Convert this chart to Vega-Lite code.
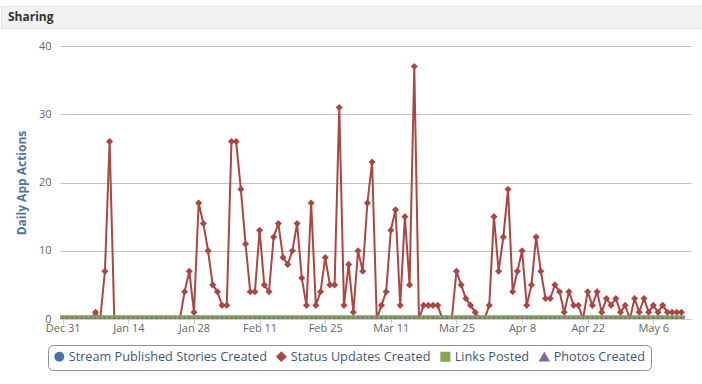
{
  "$schema": "https://vega.github.io/schema/vega-lite/v6.json",
  "background": "white",
  "padding": {"left": 0, "top": 5, "right": 0, "bottom": 0},
  "config": {"font": "Open Sans", "view": {"stroke": null}},
  "spacing": 11,
  "vconcat": [
    {
      "width": 702,
      "height": 22,
      "view": {"fill": "#f2f2f2", "stroke": "#e4e4e4"},
      "data": {"values": [{"label": "Sharing"}]},
      "mark": {"type": "text", "align": "left", "dx": 7, "font": "Open Sans", "fontSize": 12, "fontWeight": "bold", "color": "#333333"},
      "encoding": {
        "text": {"field": "label"},
        "x": {"datum": 0, "type": "quantitative", "scale": {"domain": [0, 1]}, "axis": null}
      }
    },
    {
      "spacing": 0,
      "hconcat": [
        {
          "width": 1,
          "height": 1,
          "data": {"values": []},
          "mark": "text"
        },
        {
          "width": 631,
          "height": 273,
          "view": {"stroke": null},
          "data": {"values": [
            {"d":"2012-12-31","stream":0,"status":0,"links":0,"photos":0},
            {"d":"2013-01-01","stream":0,"status":0,"links":0,"photos":0},
            {"d":"2013-01-02","stream":0,"status":0,"links":0,"photos":0},
            {"d":"2013-01-03","stream":0,"status":0,"links":0,"photos":0},
            {"d":"2013-01-04","stream":0,"status":0,"links":0,"photos":0},
            {"d":"2013-01-05","stream":0,"status":0,"links":0,"photos":0},
            {"d":"2013-01-06","stream":0,"status":0,"links":0,"photos":0},
            {"d":"2013-01-07","stream":0,"status":1,"links":0,"photos":0},
            {"d":"2013-01-08","stream":0,"status":0,"links":0,"photos":0},
            {"d":"2013-01-09","stream":0,"status":7,"links":0,"photos":0},
            {"d":"2013-01-10","stream":0,"status":26,"links":0,"photos":0},
            {"d":"2013-01-11","stream":0,"status":0,"links":0,"photos":0},
            {"d":"2013-01-12","stream":0,"status":0,"links":0,"photos":0},
            {"d":"2013-01-13","stream":0,"status":0,"links":0,"photos":0},
            {"d":"2013-01-14","stream":0,"status":0,"links":0,"photos":0},
            {"d":"2013-01-15","stream":0,"status":0,"links":0,"photos":0},
            {"d":"2013-01-16","stream":0,"status":0,"links":0,"photos":0},
            {"d":"2013-01-17","stream":0,"status":0,"links":0,"photos":0},
            {"d":"2013-01-18","stream":0,"status":0,"links":0,"photos":0},
            {"d":"2013-01-19","stream":0,"status":0,"links":0,"photos":0},
            {"d":"2013-01-20","stream":0,"status":0,"links":0,"photos":0},
            {"d":"2013-01-21","stream":0,"status":0,"links":0,"photos":0},
            {"d":"2013-01-22","stream":0,"status":0,"links":0,"photos":0},
            {"d":"2013-01-23","stream":0,"status":0,"links":0,"photos":0},
            {"d":"2013-01-24","stream":0,"status":0,"links":0,"photos":0},
            {"d":"2013-01-25","stream":0,"status":0,"links":0,"photos":0},
            {"d":"2013-01-26","stream":0,"status":4,"links":0,"photos":0},
            {"d":"2013-01-27","stream":0,"status":7,"links":0,"photos":0},
            {"d":"2013-01-28","stream":0,"status":1,"links":0,"photos":0},
            {"d":"2013-01-29","stream":0,"status":17,"links":0,"photos":0},
            {"d":"2013-01-30","stream":0,"status":14,"links":0,"photos":0},
            {"d":"2013-01-31","stream":0,"status":10,"links":0,"photos":0},
            {"d":"2013-02-01","stream":0,"status":5,"links":0,"photos":0},
            {"d":"2013-02-02","stream":0,"status":4,"links":0,"photos":0},
            {"d":"2013-02-03","stream":0,"status":2,"links":0,"photos":0},
            {"d":"2013-02-04","stream":0,"status":2,"links":0,"photos":0},
            {"d":"2013-02-05","stream":0,"status":26,"links":0,"photos":0},
            {"d":"2013-02-06","stream":0,"status":26,"links":0,"photos":0},
            {"d":"2013-02-07","stream":0,"status":19,"links":0,"photos":0},
            {"d":"2013-02-08","stream":0,"status":11,"links":0,"photos":0},
            {"d":"2013-02-09","stream":0,"status":4,"links":0,"photos":0},
            {"d":"2013-02-10","stream":0,"status":4,"links":0,"photos":0},
            {"d":"2013-02-11","stream":0,"status":13,"links":0,"photos":0},
            {"d":"2013-02-12","stream":0,"status":5,"links":0,"photos":0},
            {"d":"2013-02-13","stream":0,"status":4,"links":0,"photos":0},
            {"d":"2013-02-14","stream":0,"status":12,"links":0,"photos":0},
            {"d":"2013-02-15","stream":0,"status":14,"links":0,"photos":0},
            {"d":"2013-02-16","stream":0,"status":9,"links":0,"photos":0},
            {"d":"2013-02-17","stream":0,"status":8,"links":0,"photos":0},
            {"d":"2013-02-18","stream":0,"status":10,"links":0,"photos":0},
            {"d":"2013-02-19","stream":0,"status":14,"links":0,"photos":0},
            {"d":"2013-02-20","stream":0,"status":6,"links":0,"photos":0},
            {"d":"2013-02-21","stream":0,"status":2,"links":0,"photos":0},
            {"d":"2013-02-22","stream":0,"status":17,"links":0,"photos":0},
            {"d":"2013-02-23","stream":0,"status":2,"links":0,"photos":0},
            {"d":"2013-02-24","stream":0,"status":4,"links":0,"photos":0},
            {"d":"2013-02-25","stream":0,"status":9,"links":0,"photos":0},
            {"d":"2013-02-26","stream":0,"status":5,"links":0,"photos":0},
            {"d":"2013-02-27","stream":0,"status":5,"links":0,"photos":0},
            {"d":"2013-02-28","stream":0,"status":31,"links":0,"photos":0},
            {"d":"2013-03-01","stream":0,"status":2,"links":0,"photos":0},
            {"d":"2013-03-02","stream":0,"status":8,"links":0,"photos":0},
            {"d":"2013-03-03","stream":0,"status":1,"links":0,"photos":0},
            {"d":"2013-03-04","stream":0,"status":10,"links":0,"photos":0},
            {"d":"2013-03-05","stream":0,"status":7,"links":0,"photos":0},
            {"d":"2013-03-06","stream":0,"status":17,"links":0,"photos":0},
            {"d":"2013-03-07","stream":0,"status":23,"links":0,"photos":0},
            {"d":"2013-03-08","stream":0,"status":0,"links":0,"photos":0},
            {"d":"2013-03-09","stream":0,"status":2,"links":0,"photos":0},
            {"d":"2013-03-10","stream":0,"status":4,"links":0,"photos":0},
            {"d":"2013-03-11","stream":0,"status":13,"links":0,"photos":0},
            {"d":"2013-03-12","stream":0,"status":16,"links":0,"photos":0},
            {"d":"2013-03-13","stream":0,"status":2,"links":0,"photos":0},
            {"d":"2013-03-14","stream":0,"status":15,"links":0,"photos":0},
            {"d":"2013-03-15","stream":0,"status":5,"links":0,"photos":0},
            {"d":"2013-03-16","stream":0,"status":37,"links":0,"photos":0},
            {"d":"2013-03-17","stream":0,"status":0,"links":0,"photos":0},
            {"d":"2013-03-18","stream":0,"status":2,"links":0,"photos":0},
            {"d":"2013-03-19","stream":0,"status":2,"links":0,"photos":0},
            {"d":"2013-03-20","stream":0,"status":2,"links":0,"photos":0},
            {"d":"2013-03-21","stream":0,"status":2,"links":0,"photos":0},
            {"d":"2013-03-22","stream":0,"status":0,"links":0,"photos":0},
            {"d":"2013-03-23","stream":0,"status":0,"links":0,"photos":0},
            {"d":"2013-03-24","stream":0,"status":0,"links":0,"photos":0},
            {"d":"2013-03-25","stream":0,"status":7,"links":0,"photos":0},
            {"d":"2013-03-26","stream":0,"status":5,"links":0,"photos":0},
            {"d":"2013-03-27","stream":0,"status":3,"links":0,"photos":0},
            {"d":"2013-03-28","stream":0,"status":2,"links":0,"photos":0},
            {"d":"2013-03-29","stream":0,"status":1,"links":0,"photos":0},
            {"d":"2013-03-30","stream":0,"status":0,"links":0,"photos":0},
            {"d":"2013-03-31","stream":0,"status":0,"links":0,"photos":0},
            {"d":"2013-04-01","stream":0,"status":2,"links":0,"photos":0},
            {"d":"2013-04-02","stream":0,"status":15,"links":0,"photos":0},
            {"d":"2013-04-03","stream":0,"status":7,"links":0,"photos":0},
            {"d":"2013-04-04","stream":0,"status":12,"links":0,"photos":0},
            {"d":"2013-04-05","stream":0,"status":19,"links":0,"photos":0},
            {"d":"2013-04-06","stream":0,"status":4,"links":0,"photos":0},
            {"d":"2013-04-07","stream":0,"status":7,"links":0,"photos":0},
            {"d":"2013-04-08","stream":0,"status":10,"links":0,"photos":0},
            {"d":"2013-04-09","stream":0,"status":2,"links":0,"photos":0},
            {"d":"2013-04-10","stream":0,"status":5,"links":0,"photos":0},
            {"d":"2013-04-11","stream":0,"status":12,"links":0,"photos":0},
            {"d":"2013-04-12","stream":0,"status":7,"links":0,"photos":0},
            {"d":"2013-04-13","stream":0,"status":3,"links":0,"photos":0},
            {"d":"2013-04-14","stream":0,"status":3,"links":0,"photos":0},
            {"d":"2013-04-15","stream":0,"status":5,"links":0,"photos":0},
            {"d":"2013-04-16","stream":0,"status":4,"links":0,"photos":0},
            {"d":"2013-04-17","stream":0,"status":1,"links":0,"photos":0},
            {"d":"2013-04-18","stream":0,"status":4,"links":0,"photos":0},
            {"d":"2013-04-19","stream":0,"status":2,"links":0,"photos":0},
            {"d":"2013-04-20","stream":0,"status":2,"links":0,"photos":0},
            {"d":"2013-04-21","stream":0,"status":0,"links":0,"photos":0},
            {"d":"2013-04-22","stream":0,"status":4,"links":0,"photos":0},
            {"d":"2013-04-23","stream":0,"status":2,"links":0,"photos":0},
            {"d":"2013-04-24","stream":0,"status":4,"links":0,"photos":0},
            {"d":"2013-04-25","stream":0,"status":1,"links":0,"photos":0},
            {"d":"2013-04-26","stream":0,"status":3,"links":0,"photos":0},
            {"d":"2013-04-27","stream":0,"status":2,"links":0,"photos":0},
            {"d":"2013-04-28","stream":0,"status":3,"links":0,"photos":0},
            {"d":"2013-04-29","stream":0,"status":1,"links":0,"photos":0},
            {"d":"2013-04-30","stream":0,"status":2,"links":0,"photos":0},
            {"d":"2013-05-01","stream":0,"status":0,"links":0,"photos":0},
            {"d":"2013-05-02","stream":0,"status":3,"links":0,"photos":0},
            {"d":"2013-05-03","stream":0,"status":1,"links":0,"photos":0},
            {"d":"2013-05-04","stream":0,"status":3,"links":0,"photos":0},
            {"d":"2013-05-05","stream":0,"status":1,"links":0,"photos":0},
            {"d":"2013-05-06","stream":0,"status":2,"links":0,"photos":0},
            {"d":"2013-05-07","stream":0,"status":1,"links":0,"photos":0},
            {"d":"2013-05-08","stream":0,"status":2,"links":0,"photos":0},
            {"d":"2013-05-09","stream":0,"status":1,"links":0,"photos":0},
            {"d":"2013-05-10","stream":0,"status":1,"links":0,"photos":0},
            {"d":"2013-05-11","stream":0,"status":1,"links":0,"photos":0},
            {"d":"2013-05-12","stream":0,"status":1,"links":0,"photos":0}
          ]},
          "transform": [{"fold": ["stream", "status", "links", "photos"], "as": ["series", "value"]}],
          "encoding": {
            "x": {
              "field": "d", "type": "temporal",
              "scale": {"type": "utc", "domain": [
                {"year": 2012, "month": 12, "date": 30, "hours": 10, "utc": true},
                {"year": 2013, "month": 5, "date": 14, "hours": 1, "utc": true}
              ]},
              "axis": {
                "title": null,
                "values": [
                  {"year": 2012, "month": 12, "date": 31, "utc": true},
                  {"year": 2013, "month": 1, "date": 14, "utc": true},
                  {"year": 2013, "month": 1, "date": 28, "utc": true},
                  {"year": 2013, "month": 2, "date": 11, "utc": true},
                  {"year": 2013, "month": 2, "date": 25, "utc": true},
                  {"year": 2013, "month": 3, "date": 11, "utc": true},
                  {"year": 2013, "month": 3, "date": 25, "utc": true},
                  {"year": 2013, "month": 4, "date": 8, "utc": true},
                  {"year": 2013, "month": 4, "date": 22, "utc": true},
                  {"year": 2013, "month": 5, "date": 6, "utc": true}
                ],
                "format": "%b %-d",
                "grid": false,
                "domainColor": "#c0d0e0",
                "tickColor": "#c0d0e0",
                "tickSize": 5,
                "labelColor": "#666666",
                "labelFont": "Open Sans",
                "labelFontSize": 11,
                "labelPadding": -2,
                "labelFlush": false,
                "labelOverlap": false
              }
            },
            "y": {
              "field": "value", "type": "quantitative",
              "scale": {"domain": [0, 40], "nice": false},
              "axis": {
                "title": "Daily App Actions",
                "titleFont": "Open Sans",
                "titleFontSize": 12,
                "titleFontWeight": "bold",
                "titleColor": "#4d759e",
                "titleAngle": 270,
                "titleAlign": "center",
                "titleBaseline": "bottom",
                "titleX": -32,
                "titleY": 136.5,
                "minExtent": 58,
                "maxExtent": 58,
                "values": [0, 10, 20, 30, 40],
                "domain": false,
                "ticks": false,
                "tickSize": 0,
                "labelPadding": 9,
                "labelColor": "#666666",
                "labelFont": "Open Sans",
                "labelFontSize": 11,
                "gridColor": "#c0c0c0",
                "gridOpacity": 1
              }
            },
            "color": {
              "field": "series", "type": "nominal",
              "scale": {"domain": ["stream", "status", "links", "photos"], "range": ["#4572A7", "#AA4643", "#89A54E", "#80699B"]},
              "legend": {
                "title": null,
                "orient": "none",
                "legendX": 47,
                "legendY": 339,
                "direction": "horizontal",
                "fillColor": "white",
                "strokeColor": "#909090",
                "cornerRadius": 5,
                "padding": 5,
                "columnPadding": 6,
                "labelFont": "Open Sans",
                "labelFontSize": 12.7,
                "labelColor": "#3e576f",
                "labelOffset": 3,
                "labelLimit": 400,
                "symbolSize": 64,
                "symbolStrokeWidth": 2,
                "labelExpr": "datum.value === 'stream' ? 'Stream Published Stories Created' : datum.value === 'status' ? 'Status Updates Created' : datum.value === 'links' ? 'Links Posted' : 'Photos Created'",
                "encode": {
                  "symbols": {
                    "update": {
                      "shape": {"signal": "datum.value === 'stream' ? 'M-2,0L2,0M-0.8,0A0.8,0.8,0,1,1,0.8,0A0.8,0.8,0,1,1,-0.8,0Z' : datum.value === 'status' ? 'M-2,0L2,0M-0.85,0L0,-0.85L0.85,0L0,0.85Z' : datum.value === 'links' ? 'M-2,0L2,0M-0.75,-0.75L0.75,-0.75L0.75,0.75L-0.75,0.75Z' : 'M-2,0L2,0M0,-0.85L0.85,0.7L-0.85,0.7Z'"},
                      "fill": {"signal": "datum.value === 'stream' ? '#4572A7' : datum.value === 'status' ? '#AA4643' : datum.value === 'links' ? '#89A54E' : '#80699B'"},
                      "stroke": {"signal": "datum.value === 'stream' ? '#4572A7' : datum.value === 'status' ? '#AA4643' : datum.value === 'links' ? '#89A54E' : '#80699B'"},
                      "strokeWidth": {"value": 2},
                      "opacity": {"value": 1},
                      "fillOpacity": {"value": 1},
                      "strokeOpacity": {"value": 1}
                    }
                  }
                }
              }
            }
          },
          "layer": [
            {"mark": {"type": "line", "strokeWidth": 2, "clip": true}},
            {
              "mark": {"type": "point", "filled": true, "size": 50, "opacity": 1, "clip": true},
              "encoding": {
                "shape": {"field": "series", "type": "nominal", "scale": {"domain": ["stream", "status", "links", "photos"], "range": ["circle", "diamond", "square", "triangle-up"]}, "legend": null}
              }
            }
          ]
        }
      ]
    }
  ]
}
